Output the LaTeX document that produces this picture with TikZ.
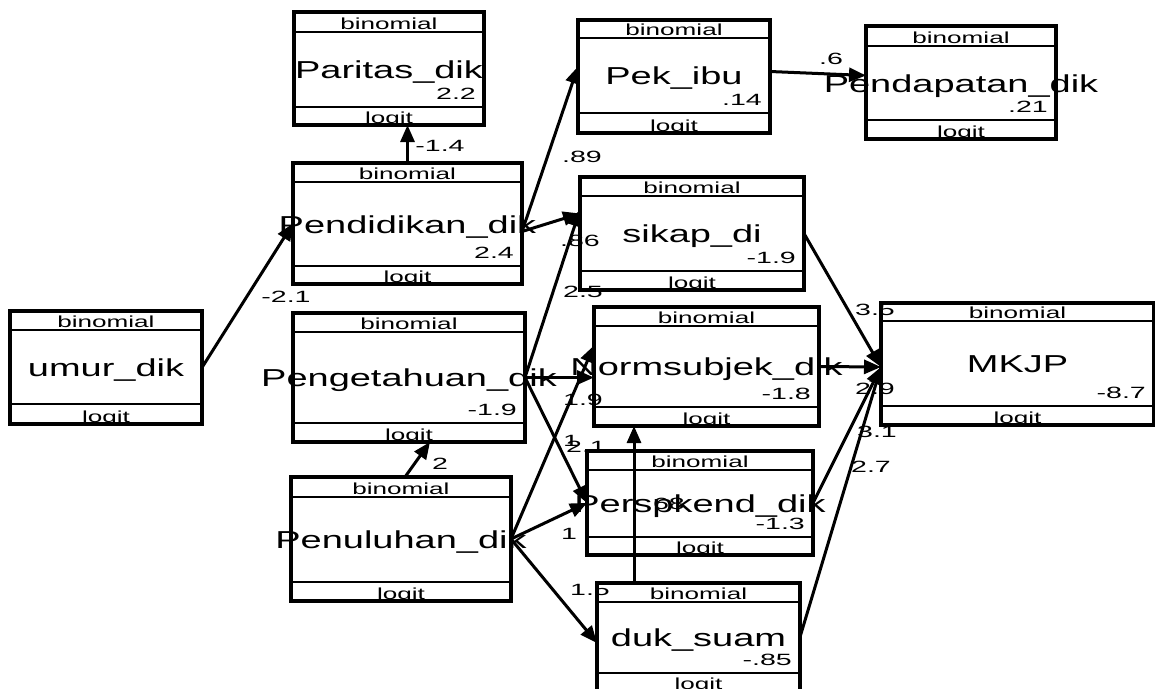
\documentclass[tikz,border=0pt]{standalone}
\usepackage{fontspec}
\usetikzlibrary{arrows.meta}
\newfontfamily\fnamefam[FakeStretch=1.55]{Liberation Sans}
\newfontfamily\fsmallfam[FakeStretch=1.63]{Liberation Sans}
\newfontfamily\fnumfam[FakeStretch=1.75]{Liberation Sans}
\newcommand\fname{\fnamefam\fontsize{24.5}{25}\selectfont}
\newcommand\fsmall{\fsmallfam\fontsize{16}{16}\selectfont}
\newcommand\fnum{\fnumfam\fontsize{16.3}{16}\selectfont}
\tikzset{
  semrect/.style={draw, line width=3.3pt, inner sep=0pt, outer sep=0pt},
  sepline/.style={line width=2.5pt},
  smalltxt/.style={font=\fsmall, inner sep=0pt, anchor=base},
  nametxt/.style={font=\fname, inner sep=0pt, anchor=base},
  numtxt/.style={font=\fnum, inner sep=0pt, anchor=base east},
  plab/.style={font=\fnum, inner sep=0pt, anchor=center},
  arr/.style={line width=3pt, -{Triangle[length=17pt,width=14pt]}},
}
% #1 id, #2 left, #3 top, #4 right, #5 bottom, #6 header line, #7 footer line, #8 name, #9 value
\newcommand\sembox[9]{%
  \node[semrect, minimum width={(#4-#2)*1pt}, minimum height={(#5-#3)*1pt}, anchor=north west] (#1) at (#2,#3) {};
  \draw[sepline] (#2,#6) -- (#4,#6);
  \draw[sepline] (#2,#7) -- (#4,#7);
  \node[smalltxt] (#1-h) at ({(#2+#4)/2},{#6-2.5}) {binomial};
  \node[smalltxt] (#1-f) at ({(#2+#4)/2},{#5-2}) {logit};
  \node[nametxt] (#1-n) at ({(#2+#4)/2},{(#6+#7)/2+9}) {#8};
  \node[numtxt] (#1-v) at ({#4-8},{#7-8}) {#9};
}
\begin{document}
\begin{tikzpicture}[x=1pt,y=-1pt]
\useasboundingbox (0,0) rectangle (1155,688);
\sembox{paritas}{294}{12}{484}{125}{32}{107}{Paritas\_dik}{2.2}
\sembox{pendidikan}{293}{163}{522}{284}{182}{266}{Pendidikan\_dik}{2.4}
\sembox{pekibu}{578}{20}{770}{133}{38}{113}{Pek\_ibu}{.14}
\sembox{pendapatan}{866}{26}{1056}{139}{46}{120}{Pendapatan\_dik}{.21}
\sembox{sikap}{580}{177}{804}{290}{196}{271}{sikap\_di}{-1.9}
\sembox{umur}{10}{311}{202}{424}{330}{404}{umur\_dik}{}
\sembox{pengetahuan}{293}{313}{525}{442}{332}{423}{Pengetahuan\_dik}{-1.9}
\sembox{normsubjek}{594}{307}{819}{426}{326}{407}{Normsubjek\_dik}{-1.8}
\sembox{mkjp}{881}{303}{1154}{425}{321}{406}{MKJP}{-8.7}
\sembox{penuluhan}{291}{477}{511}{601}{497}{582}{Penuluhan\_dik}{}
\sembox{perspkend}{587}{451}{813}{555}{470}{537}{Perspkend\_dik}{-1.3}
\sembox{duk}{597}{583}{800}{691}{602}{673}{duk\_suam}{-.85}

% connectors
\draw[arr] (umur.east) -- (pendidikan.west);
\draw[arr] (pendidikan.north) -- (pendidikan.north |- paritas.south);
\draw[arr] ([yshift=-8pt]pendidikan.east) -- ([yshift=10pt]pekibu.west);
\draw[arr] ([yshift=-8pt]pendidikan.east) -- ([yshift=20pt]sikap.west);
\draw[arr] ([yshift=5pt]pekibu.east) -- ([yshift=7pt]pendapatan.west);
\draw[arr] (pengetahuan.east) -- ([yshift=24pt]sikap.west);
\draw[arr] (pengetahuan.east) -- ([yshift=-11pt]normsubjek.west);
\draw[arr] (pengetahuan.east) -- (perspkend.west);
\draw[arr] ([xshift=4pt]penuluhan.north) -- ([xshift=21pt]pengetahuan.south);
\draw[arr] (penuluhan.east) -- ([yshift=21pt]normsubjek.west);
\draw[arr] (penuluhan.east) -- (perspkend.west);
\draw[arr] (penuluhan.east) -- ([yshift=-6pt]duk.west);
\draw[arr] ([xshift=37pt]duk.north west) coordinate (dn) -- (dn |- normsubjek.south);
\draw[arr] (sikap.east) -- ([yshift=-3pt]mkjp.west);
\draw[arr] (normsubjek.east) -- ([yshift=-3pt]mkjp.west);
\draw[arr] (perspkend.east) -- ([yshift=-3pt]mkjp.west);
\draw[arr] (duk.east) -- ([yshift=-3pt]mkjp.west);

% path coefficients
\node[plab] (lA) at (440,146) {-1.4};
\node[plab] (lB) at (582,157) {.89};
\node[plab] (lC) at (580,241) {.86};
\node[plab] (lD) at (583,292) {2.5};
\node[plab] (lE) at (286,297) {-2.1};
\node[plab] (lF) at (831,59) {.6};
\node[plab] (lG) at (875,310) {3.5};
\node[plab] (lH) at (875,389) {2.9};
\node[plab] (lI) at (877,432) {3.1};
\node[plab] (lJ) at (871,467) {2.7};
\node[plab] (lK) at (583,400) {1.9};
\node[plab] (lL) at (571,441) {1};
\node[plab] (lM) at (586,447) {2.1};
\node[plab] (lN) at (440,464) {2};
\node[plab] (lO) at (569,534) {1};
\node[plab] (lP) at (590,590) {1.5};
\node[plab] (lQ) at (665,504) {.68};
\end{tikzpicture}
\end{document}
